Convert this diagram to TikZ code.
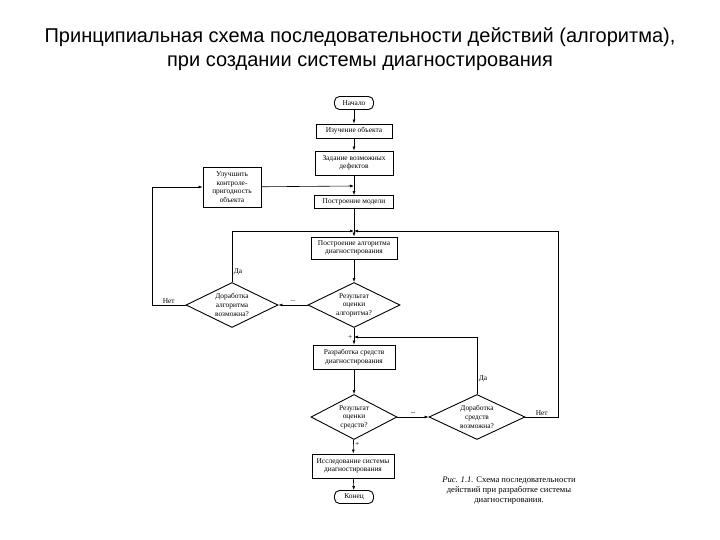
\documentclass[tikz,border=0pt]{standalone}
\usepackage{fontspec}
\setmainfont{Liberation Serif}
\newfontfamily\titlefont{Liberation Sans}
\usetikzlibrary{shapes.geometric,arrows.meta}

\begin{document}
\begin{tikzpicture}[x=1pt,y=-1pt,
    block/.style={rectangle,draw,line width=0.9pt,align=center,inner sep=1pt,
      font=\fontsize{7.4}{8.6}\selectfont},
    term/.style={rectangle,rounded corners=5pt,draw,line width=0.9pt,inner sep=1pt,
      minimum width=39pt,minimum height=13pt,font=\fontsize{7.4}{8.6}\selectfont},
    decision/.style={diamond,draw,line width=0.9pt,align=center,aspect=2,inner sep=-3pt,
      minimum width=92pt,minimum height=45pt,font=\fontsize{7.4}{8.6}\selectfont},
    arr/.style={-{Latex[length=4pt,width=3pt]},line width=0.6pt},
    lbl/.style={inner sep=1.5pt,font=\fontsize{7.4}{8.6}\selectfont}]
  \useasboundingbox[fill=white] (0,0) rectangle (720,540);
  % title
  \node[align=center,font=\titlefont\fontsize{20}{24}\selectfont] (title) at (360,49)
    {Принципиальная схема последовательности действий (алгоритма),\\при создании системы диагностирования};
  % main column
  \node[term] (start) at (354,103) {Начало};
  \node[block,minimum width=76pt,minimum height=14pt] (study) at (354,131) {Изучение объекта};
  \node[block,minimum width=78pt,minimum height=24pt] (defects) at (354,163) {Задание возможных\\дефектов};
  \node[block,minimum width=79pt,minimum height=13pt] (model) at (354,202) {Построение модели};
  \node[block,minimum width=86pt,minimum height=22pt] (alg) at (354,248) {Построение алгоритма\\диагностирования};
  \node[decision] (algres) at (354,305) {Результат\\оценки\\алгоритма?};
  \node[block,minimum width=82pt,minimum height=24pt] (tool) at (354,357) {Разработка средств\\диагностирования};
  \node[decision,minimum width=86pt] (toolres) at (354,417) {Результат\\оценки\\средств?};
  \node[block,minimum width=82pt,minimum height=24pt] (check) at (353,466) {Исследование системы\\диагностирования};
  \node[term] (stop) at (354,497) {Конец};
  % side nodes
  \node[block,minimum width=58pt,minimum height=40pt] (improve) at (232,187) {Улучшить\\контроле-\\пригодность\\объекта};
  \node[decision] (algok) at (232,305) {Доработка\\алгоритма\\возможна?};
  \node[decision,minimum width=96pt] (toolok) at (477,417) {Доработка\\средств\\возможна?};
  \node[align=center,font=\fontsize{8.6}{10}\selectfont] (cap) at (509,491)
    {\textit{Рис. 1.1.} Схема последовательности\\действий при разработке системы\\диагностирования.};
  % junctions and corners
  \coordinate (j1) at (354,186);
  \coordinate (j2) at (354,231);
  \coordinate (j3) at (354,337);
  \coordinate (lc) at (152,305);
  \coordinate (rc) at (558,417);
  % connectors
  \draw[arr] (start) -- (study);
  \draw[arr] (study) -- (defects);
  \draw[arr] (defects) -- (model);
  \draw[arr] (model) -- (alg);
  \draw[arr] (alg) -- (algres);
  \draw[arr] (algres) -- node[lbl,left,pos=0.55] {+} (tool);
  \draw[arr] (tool) -- (toolres);
  \draw[arr] (toolres) -- node[lbl,right,pos=0.35] {+} (check);
  \draw[arr] (check) -- (stop);
  \draw[arr] (improve) -- (j1);
  \draw[arr] (algok.west) -- node[lbl,above] {Нет} (lc) |- (improve.west);
  \draw[arr] (algok.north) |- node[lbl,right,pos=0.1] {Да} (j2);
  \draw[arr] (algres.west) -- node[lbl,above] {$-$} (algok.east);
  \draw[arr] (toolres.east) -- node[lbl,above] {\textasciitilde} (toolok.west);
  \draw[arr] (toolok.north) |- node[lbl,right,pos=0.13] {Да} (j3);
  \draw[arr] (toolok.east) -- node[lbl,above] {Нет} (rc) |- (j2);
\end{tikzpicture}
\end{document}
